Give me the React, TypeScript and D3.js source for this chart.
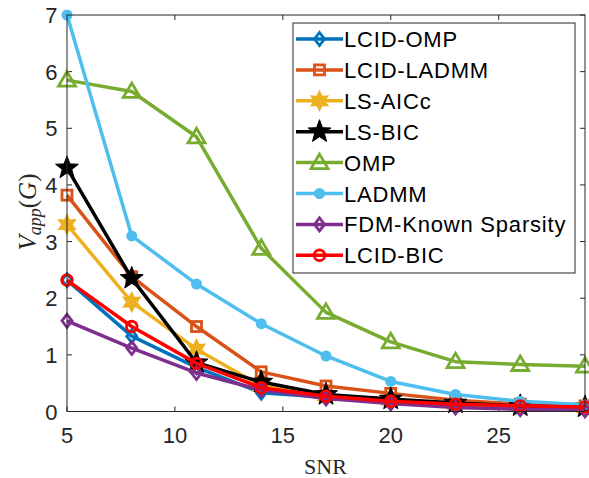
import React, { useEffect, useRef } from 'react';
import * as d3 from 'd3';

const snr = [5, 8, 11, 14, 17, 20, 23, 26, 29];
const xTicks = [5, 10, 15, 20, 25];
const yTicks = [0, 1, 2, 3, 4, 5, 6, 7];

const lcidOmp = [2.32, 1.33, 0.78, 0.33, 0.25, 0.17, 0.12, 0.08, 0.06];
const lcidLadmm = [3.82, 2.38, 1.5, 0.7, 0.45, 0.32, 0.2, 0.13, 0.1];
const lsAicc = [3.3, 1.93, 1.1, 0.45, 0.28, 0.2, 0.13, 0.1, 0.07];
const lsBic = [4.3, 2.35, 0.86, 0.52, 0.3, 0.22, 0.15, 0.1, 0.08];
const omp = [5.85, 5.65, 4.85, 2.88, 1.75, 1.23, 0.88, 0.83, 0.8];
const ladmm = [7.0, 3.1, 2.25, 1.55, 0.98, 0.53, 0.3, 0.18, 0.12];
const fdm = [1.6, 1.12, 0.68, 0.38, 0.23, 0.14, 0.07, 0.04, 0.02];
const lcidBic = [2.32, 1.5, 0.85, 0.42, 0.27, 0.18, 0.13, 0.1, 0.08];

const series = [
  { name: 'LCID-OMP', values: lcidOmp, color: '#0072BD', marker: 'diamond' },
  { name: 'LCID-LADMM', values: lcidLadmm, color: '#D95319', marker: 'square' },
  { name: 'LS-AICc', values: lsAicc, color: '#EDB120', marker: 'hexagram' },
  { name: 'LS-BIC', values: lsBic, color: '#000000', marker: 'pentagram' },
  { name: 'OMP', values: omp, color: '#77AC30', marker: 'triangle' },
  { name: 'LADMM', values: ladmm, color: '#4DBEEE', marker: 'dot' },
  { name: 'FDM-Known Sparsity', values: fdm, color: '#7E2F8E', marker: 'diamond' },
  { name: 'LCID-BIC', values: lcidBic, color: '#FF0000', marker: 'circle' },
];

function starPath(points: number, outer: number, inner: number) {
  const pts: [number, number][] = [];
  for (let i = 0; i < points * 2; i++) {
    const r = i % 2 === 0 ? outer : inner;
    const a = (Math.PI * i) / points - Math.PI / 2;
    pts.push([r * Math.cos(a), r * Math.sin(a)]);
  }
  return 'M' + pts.map(p => p.join(',')).join('L') + 'Z';
}

function drawMarker(g: any, type: string, color: string) {
  if (type === 'diamond') {
    g.append('path').attr('d', 'M0,-6.5L5,0L0,6.5L-5,0Z')
      .attr('fill', 'none').attr('stroke', color).attr('stroke-width', 2.8);
  } else if (type === 'square') {
    g.append('rect').attr('x', -5).attr('y', -5).attr('width', 10).attr('height', 10)
      .attr('fill', 'none').attr('stroke', color).attr('stroke-width', 2.8);
  } else if (type === 'hexagram') {
    g.append('path').attr('d', starPath(6, 9.5, 5))
      .attr('fill', color).attr('stroke', color).attr('stroke-width', 1.5);
  } else if (type === 'pentagram') {
    g.append('path').attr('d', starPath(5, 12, 5))
      .attr('fill', color).attr('stroke', color).attr('stroke-width', 1);
  } else if (type === 'triangle') {
    g.append('path').attr('d', 'M0,-8.5L8.5,6L-8.5,6Z')
      .attr('fill', 'none').attr('stroke', color).attr('stroke-width', 2.8);
  } else if (type === 'dot') {
    g.append('circle').attr('r', 5.5).attr('fill', color);
  } else if (type === 'circle') {
    g.append('circle').attr('r', 5.3)
      .attr('fill', 'none').attr('stroke', color).attr('stroke-width', 2.8);
  }
}

const App = () => {
  const ref = useRef<SVGSVGElement>(null);

  useEffect(() => {
    const svg = d3.select(ref.current);
    svg.selectAll('*').remove();

    const left = 67, right = 585, top = 15, bottom = 411.5;
    const x = d3.scaleLinear().domain([5, 29]).range([left, right]);
    const y = d3.scaleLinear().domain([0, 7]).range([bottom, top]);
    const axisColor = '#262626';
    const tickFont = 'Arial, "Liberation Sans", sans-serif';
    const serif = '"Liberation Serif", "Times New Roman", serif';

    svg.append('rect').attr('width', 589).attr('height', 478).attr('fill', 'white');

    // ticks
    const tk = svg.append('g').attr('stroke', axisColor).attr('stroke-width', 1);
    xTicks.forEach(t => {
      tk.append('line').attr('x1', x(t)).attr('x2', x(t)).attr('y1', bottom).attr('y2', bottom - 5);
      tk.append('line').attr('x1', x(t)).attr('x2', x(t)).attr('y1', top).attr('y2', top + 5);
    });
    yTicks.forEach(t => {
      tk.append('line').attr('x1', left).attr('x2', left + 5).attr('y1', y(t)).attr('y2', y(t));
      tk.append('line').attr('x1', right).attr('x2', right - 5).attr('y1', y(t)).attr('y2', y(t));
    });

    // tick labels
    svg.append('g').selectAll('text').data(xTicks).enter().append('text')
      .attr('x', d => x(d)).attr('y', 443)
      .attr('text-anchor', 'middle').attr('font-family', tickFont).attr('font-size', 22)
      .attr('fill', axisColor).text(d => d);
    svg.append('g').selectAll('text').data(yTicks).enter().append('text')
      .attr('x', 57.5).attr('y', d => y(d) + 8)
      .attr('text-anchor', 'end').attr('font-family', tickFont).attr('font-size', 22)
      .attr('fill', axisColor).text(d => d);

    // axis labels
    svg.append('text').attr('x', 325.5).attr('y', 474)
      .attr('text-anchor', 'middle').attr('font-family', serif)
      .attr('font-size', 22).attr('fill', axisColor).text('SNR');

    const yl = svg.append('text')
      .attr('transform', `translate(36,212) rotate(-90)`)
      .attr('text-anchor', 'middle').attr('font-family', serif)
      .attr('font-size', 25).attr('fill', axisColor);
    yl.append('tspan').attr('font-style', 'italic').text('V');
    yl.append('tspan').attr('font-style', 'italic').attr('font-size', 18).attr('dy', 5).text('app');
    yl.append('tspan').attr('dy', -5).text('(');
    yl.append('tspan').attr('font-style', 'italic').text('G');
    yl.append('tspan').text(')');

    // lines
    const line = d3.line<number>().x((_, i) => x(snr[i])).y(d => y(d));
    const plot = svg.append('g');
    series.forEach(s => {
      const g = plot.append('g');
      g.append('path').datum(s.values).attr('d', line)
        .attr('fill', 'none').attr('stroke', s.color).attr('stroke-width', 3.5)
        .attr('stroke-linejoin', 'round');
      s.values.forEach((v, i) => {
        const m = g.append('g').attr('transform', `translate(${x(snr[i])},${y(v)})`);
        drawMarker(m, s.marker, s.color);
      });
    });

    // box
    svg.append('rect').attr('x', left).attr('y', top).attr('width', right - left).attr('height', bottom - top)
      .attr('fill', 'none').attr('stroke', axisColor).attr('stroke-width', 1);

    // legend
    const lx = 293, ly = 23, lw = 282, lh = 250;
    const lg = svg.append('g');
    lg.append('rect').attr('x', lx).attr('y', ly).attr('width', lw).attr('height', lh)
      .attr('fill', 'white').attr('stroke', axisColor).attr('stroke-width', 1);
    series.forEach((s, i) => {
      const cy = 39 + i * 30.9;
      lg.append('line').attr('x1', 296).attr('x2', 343).attr('y1', cy).attr('y2', cy)
        .attr('stroke', s.color).attr('stroke-width', 3.5);
      const m = lg.append('g').attr('transform', `translate(319.5,${cy})`);
      drawMarker(m, s.marker, s.color);
      lg.append('text').attr('x', 344).attr('y', cy + 8)
        .attr('font-family', tickFont).attr('font-size', 22).attr('letter-spacing', 0.8)
        .attr('fill', 'black').text(s.name);
    });
  }, []);

  return (
    <svg ref={ref} width={589} height={478}
      style={{ position: 'absolute', left: 0, top: 0, display: 'block' }} />
  );
};

export default App;
